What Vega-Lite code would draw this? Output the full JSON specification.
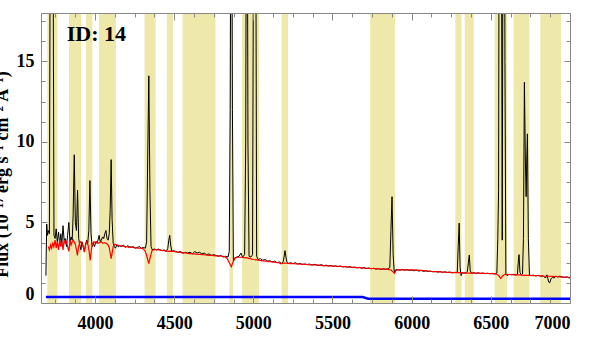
{
"$schema": "https://vega.github.io/schema/vega-lite/v6.json",
"width": 529, "height": 290,
"autosize": {"type": "none"},
"padding": {"left": 41, "top": 13, "right": 40, "bottom": 46},
"background": "white",
"config": {"view": {"stroke": null}, "font": "Liberation Serif"},
"datasets": {
"bands": [{"a":3699,"b":3762},{"a":3836,"b":3912},{"a":3943,"b":3983},{"a":4025,"b":4132},{"a":4313,"b":4383},{"a":4454,"b":4492},{"a":4553,"b":4761},{"a":4849,"b":4872},{"a":4929,"b":5036},{"a":5179,"b":5219},{"a":5738,"b":5896},{"a":6276,"b":6314},{"a":6335,"b":6392},{"a":6524,"b":6602},{"a":6644,"b":6743},{"a":6812,"b":6943}],
"spec": [
{"w":3690,"f":1.7},{"w":3695,"f":4.9},{"w":3700,"f":4.2},{"w":3705,"f":4.5},{"w":3712,"f":4.3},{"w":3719,"f":30},{"w":3726,"f":50},{"w":3733,"f":30},{"w":3741,"f":4.2},{"w":3748,"f":4.0},{"w":3755,"f":4.6},{"w":3762,"f":3.8},{"w":3770,"f":4.4},{"w":3777,"f":3.6},{"w":3784,"f":4.3},{"w":3791,"f":3.7},{"w":3798,"f":4.8},{"w":3805,"f":3.9},{"w":3812,"f":4.0},{"w":3820,"f":3.5},{"w":3827,"f":4.2},{"w":3835,"f":5.0},{"w":3842,"f":3.8},{"w":3849,"f":4.1},{"w":3856,"f":3.9},{"w":3862,"f":5.5},{"w":3869,"f":9.2},{"w":3876,"f":5.0},{"w":3883,"f":4.5},{"w":3890,"f":7.0},{"w":3897,"f":4.0},{"w":3904,"f":3.6},{"w":3911,"f":3.3},{"w":3918,"f":3.8},{"w":3925,"f":3.5},{"w":3933,"f":3.2},{"w":3940,"f":3.6},{"w":3947,"f":3.9},{"w":3954,"f":3.7},{"w":3961,"f":4.5},{"w":3968,"f":7.6},{"w":3975,"f":4.3},{"w":3982,"f":3.5},{"w":3990,"f":3.7},{"w":3997,"f":3.5},{"w":4005,"f":3.8},{"w":4012,"f":3.7},{"w":4019,"f":3.9},{"w":4026,"f":4.2},{"w":4033,"f":3.8},{"w":4040,"f":3.9},{"w":4048,"f":4.1},{"w":4055,"f":4.0},{"w":4062,"f":4.3},{"w":4069,"f":4.5},{"w":4076,"f":4.0},{"w":4083,"f":3.9},{"w":4090,"f":4.3},{"w":4096,"f":5.8},{"w":4102,"f":8.9},{"w":4108,"f":5.2},{"w":4115,"f":3.7},{"w":4122,"f":3.5},{"w":4130,"f":3.4},{"w":4137,"f":3.6},{"w":4145,"f":3.5},
{"w":4155,"f":3.55},{"w":4167,"f":3.5},{"w":4180,"f":3.6},{"w":4192,"f":3.45},{"w":4205,"f":3.55},{"w":4217,"f":3.5},{"w":4230,"f":3.45},{"w":4242,"f":3.5},{"w":4255,"f":3.4},{"w":4267,"f":3.45},{"w":4280,"f":3.5},{"w":4292,"f":3.4},{"w":4305,"f":3.45},{"w":4318,"f":3.4},{"w":4326,"f":3.8},{"w":4333,"f":9.0},{"w":4340,"f":14.1},{"w":4347,"f":7.0},{"w":4354,"f":3.5},{"w":4362,"f":3.3},{"w":4375,"f":3.35},{"w":4388,"f":3.3},{"w":4400,"f":3.35},{"w":4412,"f":3.3},{"w":4425,"f":3.25},{"w":4437,"f":3.3},{"w":4450,"f":3.2},{"w":4460,"f":3.4},{"w":4466,"f":3.9},{"w":4472,"f":4.2},{"w":4478,"f":3.6},{"w":4485,"f":3.2},{"w":4497,"f":3.25},{"w":4510,"f":3.2},{"w":4525,"f":3.15},{"w":4540,"f":3.2},{"w":4555,"f":3.1},{"w":4570,"f":3.15},{"w":4585,"f":3.1},{"w":4600,"f":3.15},{"w":4615,"f":3.05},{"w":4630,"f":3.2},{"w":4645,"f":3.1},{"w":4660,"f":3.15},{"w":4675,"f":3.05},{"w":4690,"f":3.1},{"w":4705,"f":3.0},{"w":4720,"f":3.05},{"w":4735,"f":2.95},{"w":4750,"f":3.0},{"w":4765,"f":2.95},{"w":4780,"f":2.9},{"w":4795,"f":2.95},{"w":4810,"f":2.85},{"w":4825,"f":2.9},{"w":4840,"f":2.85},{"w":4848,"f":3.2},{"w":4854,"f":12},{"w":4861,"f":35},{"w":4868,"f":12},{"w":4874,"f":2.6},{"w":4882,"f":2.8},{"w":4895,"f":2.85},{"w":4910,"f":2.9},{"w":4922,"f":3.1},{"w":4932,"f":2.85},{"w":4945,"f":3.0},{"w":4952,"f":10},{"w":4959,"f":40},{"w":4966,"f":10},{"w":4973,"f":2.9},{"w":4985,"f":2.85},{"w":4995,"f":3.0},{"w":5000,"f":20},{"w":5007,"f":110},{"w":5014,"f":30},{"w":5021,"f":2.9},{"w":5030,"f":2.7},{"w":5045,"f":2.75},{"w":5060,"f":2.65},{"w":5075,"f":2.7},{"w":5090,"f":2.6},{"w":5105,"f":2.62},{"w":5120,"f":2.55},{"w":5135,"f":2.6},{"w":5150,"f":2.5},{"w":5165,"f":2.55},{"w":5178,"f":2.45},{"w":5190,"f":2.6},{"w":5200,"f":3.25},{"w":5210,"f":2.6},{"w":5222,"f":2.45},{"w":5235,"f":2.5},{"w":5250,"f":2.45},{"w":5265,"f":2.5},{"w":5280,"f":2.42},{"w":5295,"f":2.45},{"w":5310,"f":2.4},{"w":5325,"f":2.42},{"w":5340,"f":2.38},{"w":5355,"f":2.42},{"w":5370,"f":2.35},{"w":5385,"f":2.4},{"w":5400,"f":2.36},{"w":5415,"f":2.33},{"w":5430,"f":2.38},{"w":5445,"f":2.3},{"w":5460,"f":2.35},{"w":5475,"f":2.3},{"w":5490,"f":2.32},{"w":5505,"f":2.28},{"w":5520,"f":2.3},{"w":5535,"f":2.26},{"w":5550,"f":2.29},{"w":5565,"f":2.24},{"w":5580,"f":2.27},{"w":5595,"f":2.22},{"w":5610,"f":2.25},{"w":5625,"f":2.2},{"w":5640,"f":2.23},{"w":5655,"f":2.18},{"w":5670,"f":2.21},{"w":5685,"f":2.16},{"w":5700,"f":2.19},{"w":5715,"f":2.14},{"w":5730,"f":2.17},{"w":5745,"f":2.12},{"w":5760,"f":2.16},{"w":5775,"f":2.1},{"w":5790,"f":2.14},{"w":5805,"f":2.08},{"w":5820,"f":2.13},{"w":5835,"f":2.09},{"w":5850,"f":2.12},{"w":5862,"f":2.2},{"w":5869,"f":4.5},{"w":5876,"f":6.6},{"w":5883,"f":3.0},{"w":5890,"f":1.9},{"w":5897,"f":2.05},{"w":5910,"f":2.08},{"w":5925,"f":2.04},{"w":5940,"f":2.08},{"w":5955,"f":2.03},{"w":5970,"f":2.07},{"w":5985,"f":2.02},{"w":6000,"f":2.05},{"w":6015,"f":2.0},{"w":6030,"f":2.04},{"w":6045,"f":1.98},{"w":6060,"f":2.02},{"w":6075,"f":1.96},{"w":6090,"f":2.0},{"w":6105,"f":1.95},{"w":6120,"f":1.98},{"w":6135,"f":1.93},{"w":6150,"f":1.96},{"w":6165,"f":1.92},{"w":6180,"f":1.95},{"w":6195,"f":1.9},{"w":6210,"f":1.94},{"w":6225,"f":1.89},{"w":6240,"f":1.92},{"w":6255,"f":1.87},{"w":6270,"f":1.9},{"w":6288,"f":1.9},{"w":6294,"f":3.5},{"w":6300,"f":4.96},{"w":6306,"f":2.2},{"w":6312,"f":1.7},{"w":6320,"f":1.88},{"w":6333,"f":1.85},{"w":6345,"f":1.9},{"w":6352,"f":1.95},{"w":6358,"f":2.5},{"w":6364,"f":2.98},{"w":6370,"f":2.0},{"w":6378,"f":1.85},{"w":6390,"f":1.88},{"w":6405,"f":1.84},{"w":6420,"f":1.87},{"w":6435,"f":1.83},{"w":6450,"f":1.86},{"w":6465,"f":1.82},{"w":6480,"f":1.85},{"w":6495,"f":1.81},{"w":6510,"f":1.84},{"w":6525,"f":1.8},{"w":6538,"f":1.85},{"w":6544,"f":4.0},{"w":6549,"f":7.0},{"w":6555,"f":40},{"w":6561,"f":90},{"w":6567,"f":25},{"w":6572,"f":3.9},{"w":6577,"f":25},{"w":6583,"f":45},{"w":6589,"f":15},{"w":6595,"f":1.8},{"w":6603,"f":1.7},{"w":6615,"f":1.78},{"w":6630,"f":1.75},{"w":6645,"f":1.78},{"w":6660,"f":1.74},{"w":6668,"f":1.8},{"w":6673,"f":2.5},{"w":6678,"f":3.0},{"w":6684,"f":1.9},{"w":6692,"f":1.75},{"w":6700,"f":1.8},{"w":6706,"f":4.0},{"w":6712,"f":13.7},{"w":6718,"f":9.0},{"w":6723,"f":6.6},{"w":6727,"f":9.0},{"w":6731,"f":10.5},{"w":6737,"f":4.0},{"w":6744,"f":1.72},{"w":6755,"f":1.7},{"w":6770,"f":1.73},{"w":6785,"f":1.68},{"w":6800,"f":1.72},{"w":6815,"f":1.66},{"w":6830,"f":1.7},{"w":6845,"f":1.55},{"w":6855,"f":1.75},{"w":6865,"f":1.3},{"w":6872,"f":1.25},{"w":6880,"f":1.5},{"w":6890,"f":1.6},{"w":6900,"f":1.55},{"w":6910,"f":1.68},{"w":6920,"f":1.62},{"w":6935,"f":1.66},{"w":6950,"f":1.62},{"w":6965,"f":1.58},{"w":6980,"f":1.62},{"w":6995,"f":1.55},{"w":7005,"f":1.58}
],
"model": [
{"w":3705,"f":3.5},{"w":3712,"f":3.3},{"w":3719,"f":3.6},{"w":3726,"f":3.4},{"w":3733,"f":3.7},{"w":3740,"f":3.5},{"w":3748,"f":3.9},{"w":3755,"f":3.4},{"w":3762,"f":3.8},{"w":3770,"f":3.3},{"w":3777,"f":3.9},{"w":3784,"f":3.5},{"w":3791,"f":3.8},{"w":3798,"f":3.3},{"w":3805,"f":3.9},{"w":3812,"f":3.7},{"w":3820,"f":3.8},{"w":3827,"f":3.5},{"w":3835,"f":3.2},{"w":3842,"f":3.9},{"w":3849,"f":3.6},{"w":3856,"f":3.8},{"w":3863,"f":3.9},{"w":3870,"f":3.75},{"w":3877,"f":3.6},{"w":3883,"f":3.3},{"w":3889,"f":2.95},{"w":3895,"f":3.4},{"w":3902,"f":3.7},{"w":3910,"f":3.8},{"w":3918,"f":3.7},{"w":3926,"f":3.5},{"w":3933,"f":3.15},{"w":3940,"f":3.6},{"w":3948,"f":3.8},{"w":3956,"f":3.6},{"w":3963,"f":3.2},{"w":3970,"f":2.65},{"w":3977,"f":3.3},{"w":3985,"f":3.7},{"w":3993,"f":3.8},{"w":4000,"f":3.75},{"w":4010,"f":3.8},{"w":4020,"f":3.7},{"w":4030,"f":3.75},{"w":4040,"f":3.8},{"w":4050,"f":3.7},{"w":4060,"f":3.75},{"w":4070,"f":3.7},{"w":4080,"f":3.65},{"w":4090,"f":3.45},{"w":4096,"f":3.1},{"w":4102,"f":2.75},{"w":4108,"f":3.1},{"w":4115,"f":3.5},{"w":4125,"f":3.65},{"w":4140,"f":3.6},{"w":4155,"f":3.55},{"w":4170,"f":3.55},{"w":4185,"f":3.5},{"w":4200,"f":3.5},{"w":4215,"f":3.45},{"w":4230,"f":3.48},{"w":4245,"f":3.44},{"w":4260,"f":3.42},{"w":4275,"f":3.4},{"w":4290,"f":3.4},{"w":4305,"f":3.36},{"w":4318,"f":3.2},{"w":4326,"f":2.95},{"w":4340,"f":2.45},{"w":4350,"f":2.9},{"w":4360,"f":3.25},{"w":4375,"f":3.32},{"w":4390,"f":3.3},{"w":4405,"f":3.3},{"w":4420,"f":3.27},{"w":4435,"f":3.25},{"w":4450,"f":3.23},{"w":4465,"f":3.2},{"w":4480,"f":3.22},{"w":4495,"f":3.2},{"w":4510,"f":3.17},{"w":4525,"f":3.15},{"w":4540,"f":3.14},{"w":4555,"f":3.1},{"w":4570,"f":3.12},{"w":4585,"f":3.08},{"w":4600,"f":3.07},{"w":4620,"f":3.05},{"w":4640,"f":3.03},{"w":4660,"f":3.02},{"w":4680,"f":3.0},{"w":4700,"f":2.98},{"w":4720,"f":2.96},{"w":4740,"f":2.95},{"w":4760,"f":2.93},{"w":4780,"f":2.92},{"w":4800,"f":2.9},{"w":4820,"f":2.88},{"w":4835,"f":2.75},{"w":4848,"f":2.5},{"w":4861,"f":2.25},{"w":4872,"f":2.55},{"w":4885,"f":2.8},{"w":4900,"f":2.85},{"w":4920,"f":2.84},{"w":4940,"f":2.82},{"w":4960,"f":2.8},{"w":4980,"f":2.75},{"w":5000,"f":2.7},{"w":5020,"f":2.68},{"w":5040,"f":2.65},{"w":5060,"f":2.62},{"w":5080,"f":2.6},{"w":5100,"f":2.57},{"w":5120,"f":2.55},{"w":5140,"f":2.52},{"w":5160,"f":2.5},{"w":5175,"f":2.43},{"w":5190,"f":2.48},{"w":5210,"f":2.47},{"w":5230,"f":2.45},{"w":5250,"f":2.45},{"w":5270,"f":2.43},{"w":5290,"f":2.42},{"w":5310,"f":2.4},{"w":5330,"f":2.4},{"w":5350,"f":2.38},{"w":5370,"f":2.37},{"w":5390,"f":2.36},{"w":5410,"f":2.35},{"w":5430,"f":2.34},{"w":5450,"f":2.32},{"w":5470,"f":2.31},{"w":5490,"f":2.3},{"w":5510,"f":2.29},{"w":5530,"f":2.28},{"w":5550,"f":2.27},{"w":5570,"f":2.26},{"w":5590,"f":2.24},{"w":5610,"f":2.23},{"w":5630,"f":2.22},{"w":5650,"f":2.2},{"w":5670,"f":2.19},{"w":5690,"f":2.18},{"w":5710,"f":2.16},{"w":5730,"f":2.15},{"w":5750,"f":2.14},{"w":5770,"f":2.13},{"w":5790,"f":2.12},{"w":5810,"f":2.11},{"w":5830,"f":2.1},{"w":5850,"f":2.09},{"w":5870,"f":2.05},{"w":5880,"f":1.95},{"w":5892,"f":1.85},{"w":5900,"f":2.0},{"w":5915,"f":2.07},{"w":5940,"f":2.06},{"w":5970,"f":2.06},{"w":6000,"f":2.05},{"w":6030,"f":2.04},{"w":6060,"f":2.02},{"w":6090,"f":2.0},{"w":6120,"f":1.97},{"w":6150,"f":1.95},{"w":6180,"f":1.93},{"w":6210,"f":1.91},{"w":6240,"f":1.9},{"w":6270,"f":1.89},{"w":6300,"f":1.88},{"w":6330,"f":1.87},{"w":6360,"f":1.86},{"w":6390,"f":1.86},{"w":6420,"f":1.85},{"w":6450,"f":1.84},{"w":6480,"f":1.83},{"w":6510,"f":1.82},{"w":6535,"f":1.8},{"w":6550,"f":1.7},{"w":6563,"f":1.52},{"w":6575,"f":1.7},{"w":6590,"f":1.78},{"w":6620,"f":1.77},{"w":6650,"f":1.75},{"w":6680,"f":1.74},{"w":6710,"f":1.72},{"w":6740,"f":1.71},{"w":6770,"f":1.7},{"w":6800,"f":1.69},{"w":6830,"f":1.67},{"w":6860,"f":1.66},{"w":6890,"f":1.65},{"w":6920,"f":1.63},{"w":6950,"f":1.61},{"w":6980,"f":1.6},{"w":7005,"f":1.58}
],
"err": [{"w":3690,"f":0.38},{"w":5690,"f":0.37},{"w":5725,"f":0.27},{"w":7005,"f":0.27}]
},
"layer": [
{"data": {"name": "bands"},
 "mark": {"type": "rect", "color": "#EEE8AA"},
 "encoding": {
  "x": {"field": "a", "type": "quantitative", "scale": {"domain": [3659, 7000], "nice": false, "zero": false}, "axis": null},
  "x2": {"field": "b"}}},
{"data": {"name": "spec"},
 "mark": {"type": "line", "color": "black", "strokeWidth": 1, "clip": true},
 "encoding": {
  "x": {"field": "w", "type": "quantitative", "scale": {"domain": [3659, 7000], "nice": false, "zero": false},
   "axis": {"orient": "bottom", "title": null, "grid": false, "format": "d",
    "values": [3750,3875,4000,4125,4250,4375,4500,4625,4750,4875,5000,5125,5250,5375,5500,5625,5750,5875,6000,6125,6250,6375,6500,6625,6750,6875,7000],
    "labelExpr": "datum.value % 500 === 0 ? datum.label : ''",
    "tickSize": {"condition": {"test": "datum.value % 500 === 0", "value": -7}, "value": -4},
    "domainColor": "#888888", "tickColor": "#888888", "labelColor": "black",
    "labelFont": "Liberation Serif", "labelFontWeight": "bold", "labelFontSize": 18,
    "labelPadding": 18, "labelFlush": true, "labelOverlap": false, "zindex": 1}},
  "y": {"field": "f", "type": "quantitative", "scale": {"domain": [0, 18], "nice": false},
   "axis": {"orient": "left", "grid": false, "format": "d",
    "values": [0,1.25,2.5,3.75,5,6.25,7.5,8.75,10,11.25,12.5,13.75,15,16.25,17.5],
    "labelExpr": "datum.value % 5 === 0 ? datum.label : ''",
    "tickSize": {"condition": {"test": "datum.value % 5 === 0", "value": -6}, "value": -4},
    "domainColor": "#888888", "tickColor": "#888888", "labelColor": "black",
    "labelFont": "Liberation Serif", "labelFontWeight": "bold", "labelFontSize": 18,
    "labelPadding": 13, "labelFlush": true, "labelOverlap": false, "zindex": 1,
    "title": "Flux (10⁻¹⁷ erg s⁻¹ cm⁻² Å⁻¹)", "titleFont": "Liberation Serif", "titleFontWeight": "bold",
    "titleFontSize": 18, "titleColor": "black", "titleX": -34, "titleY": 161, "titleAngle": 270,
    "titleBaseline": "alphabetic", "titleAlign": "center"}}}},
{"data": {"name": "model"},
 "mark": {"type": "line", "color": "#FF0000", "strokeWidth": 1.2, "clip": true},
 "encoding": {
  "x": {"field": "w", "type": "quantitative", "axis": null},
  "y": {"field": "f", "type": "quantitative", "axis": null}}},
{"data": {"name": "err"},
 "mark": {"type": "line", "color": "#0000FF", "strokeWidth": 2.5, "clip": true},
 "encoding": {
  "x": {"field": "w", "type": "quantitative",
   "axis": {"orient": "top", "title": null, "grid": false, "labels": false,
    "values": [3750,3875,4000,4125,4250,4375,4500,4625,4750,4875,5000,5125,5250,5375,5500,5625,5750,5875,6000,6125,6250,6375,6500,6625,6750,6875,7000],
    "tickSize": {"condition": {"test": "datum.value % 500 === 0", "value": -7}, "value": -4},
    "domainColor": "#888888", "tickColor": "#888888", "zindex": 1}},
  "y": {"field": "f", "type": "quantitative",
   "axis": {"orient": "right", "title": null, "grid": false, "labels": false,
    "values": [0,1.25,2.5,3.75,5,6.25,7.5,8.75,10,11.25,12.5,13.75,15,16.25,17.5],
    "tickSize": {"condition": {"test": "datum.value % 5 === 0", "value": -6}, "value": -4},
    "domainColor": "#888888", "tickColor": "#888888", "zindex": 1}}}},
{"data": {"values": [{}]},
 "mark": {"type": "text", "align": "left", "baseline": "alphabetic", "font": "Liberation Serif", "fontWeight": "bold", "fontSize": 22, "color": "black"},
 "encoding": {
  "x": {"datum": 3822, "type": "quantitative", "axis": null},
  "y": {"datum": 16.25, "type": "quantitative", "axis": null},
  "text": {"value": "ID: 14"}}}
],
"resolve": {"axis": {"x": "independent", "y": "independent"}}
}
